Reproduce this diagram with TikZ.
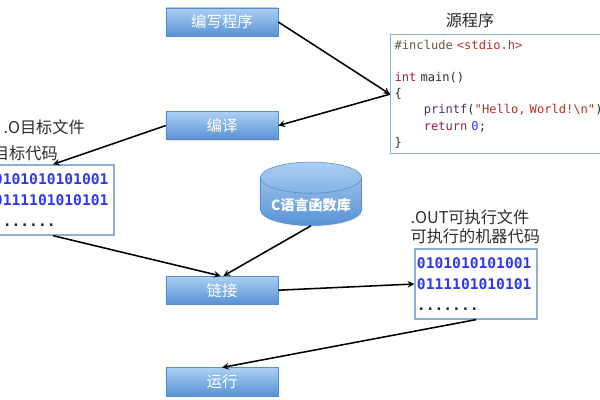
\documentclass[tikz,border=0pt]{standalone}
\usepackage{fontspec}
\setmainfont{Noto Sans CJK SC}
\setmonofont{DejaVu Sans Mono}
\usetikzlibrary{arrows,positioning,shapes.geometric,shadows}
\definecolor{steptop}{RGB}{172,207,243}
\definecolor{stepbot}{RGB}{88,146,212}
\definecolor{stepline}{RGB}{92,140,196}
\definecolor{boxline}{RGB}{140,176,212}
\definecolor{bitblue}{RGB}{48,56,238}
\definecolor{lblgray}{RGB}{45,45,45}
\definecolor{kwred}{RGB}{148,32,84}
\definecolor{strred}{RGB}{172,52,42}
\definecolor{fnpurple}{RGB}{82,42,132}
\definecolor{ppbrown}{RGB}{104,84,68}
\newcommand{\ind}{\hspace*{2.41em}}
\tikzset{
  stepnode/.style={draw=stepline, rectangle, top color=steptop, bottom color=stepbot, minimum width=2.8cm, minimum height=0.7cm, text=white, font=\fontsize{11}{13}\selectfont, drop shadow={opacity=0.25, shadow xshift=0.6pt, shadow yshift=-0.8pt}},
  dbnode/.style={cylinder, shape border rotate=90, aspect=0.35, draw=stepline, top color=steptop, bottom color=stepbot, minimum width=2.525cm, minimum height=1.55cm, text=white, font=\fontsize{10}{12}\selectfont\bfseries, drop shadow={opacity=0.2, shadow xshift=0.6pt, shadow yshift=-0.8pt}},
  codebox/.style={draw=boxline, line width=0.9pt, rectangle, fill=white, minimum height=2.975cm, text width=5.5cm, inner xsep=0.1cm, align=left, text=lblgray, font=\ttfamily\fontsize{8.6}{11.5}\selectfont},
  bitbox/.style={draw=boxline, line width=0.9pt, rectangle, fill=white, minimum width=3.05cm, minimum height=1.75cm, text width=2.95cm, inner xsep=0.05cm, align=left, text=bitblue, font=\ttfamily\bfseries\fontsize{10.4}{15}\selectfont},
  lbl/.style={text=lblgray, inner sep=0pt, align=left, font=\fontsize{11.5}{14}\selectfont},
  arrow/.style={>=stealth, line width=1.1pt, ->}
}

\begin{document}
\begin{tikzpicture}[x=0.025cm, y=-0.025cm]
  \useasboundingbox (0,0) rectangle (600,400);
  \clip (0,0) rectangle (600,400);

  % steps down the middle
  \node [stepnode] (write) at (222,22) {编写程序};
  \node [stepnode, below=1.875cm of write] (compile) {编译};
  \node [stepnode, below=3.4cm of compile] (link) {链接};
  \node [stepnode, below=1.575cm of link] (run) {运行};

  \node [dbnode] (lib) at (311,205) {C语言函数库};

  % source file
  \node [codebox, anchor=north west] (src) at (390,34) {{\color{ppbrown}\#include} {\color{strred}<stdio.h>}\\
\mbox{}\\
{\color{kwred}int} main()\\
\{\\
\ind{\color{fnpurple}printf}({\color{strred}"Hello, World!\textbackslash n"});\\
\ind{\color{kwred}return} {\color{bitblue}0};\\
\}};
  \node [lbl] (srcname) at ([xshift=2cm, yshift=0.35cm]src.north west) {源程序};

  % object file
  \node [bitbox] (objbox) at (53,200) {0101010101001\\0111101010101\\{\color{black!85}.......}};
  \node [lbl, anchor=east] (objname) at (85,127) {.O目标文件};
  \node [lbl, anchor=east] (objcode) at (58,153) {目标代码};

  % executable
  \node [bitbox] (exebox) at (476,284) {0101010101001\\0111101010101\\{\color{black!85}.......}};
  \node [lbl, anchor=south west] (exename) at ([xshift=-0.1cm, yshift=0.1cm]exebox.north west) {.OUT可执行文件\\可执行的机器代码};

  \draw [arrow] (write.east) -- (src.west);
  \draw [arrow] (src.west) -- (compile.east);
  \draw [arrow] (compile.west) -- (objbox.north);
  \draw [arrow] (objbox.south) -- ([xshift=-1pt]link.north);
  \draw [arrow] (lib.south) -- ([xshift=1pt]link.north);
  \draw [arrow] (link.east) -- (exebox.west);
  \draw [arrow] (exebox.south) -- (run.north);
\end{tikzpicture}
\end{document}
